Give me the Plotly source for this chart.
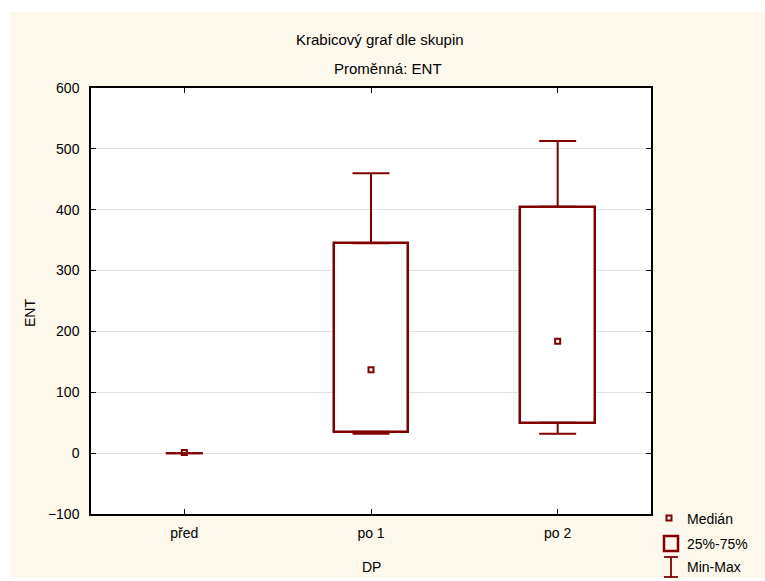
import plotly.graph_objects as go

# Group summary statistics for variable ENT
categories = ["před", "po 1", "po 2"]
q_min = [0, 32, 32]
q1 = [0, 35, 50]
median = [1, 137, 184]
q3 = [0, 345, 405]
q_max = [0, 460, 513]

y_ticks = [-100, 0, 100, 200, 300, 400, 500, 600]

DARK_RED = "#800000"
CREAM = "#FDF8EC"
FONT = "Liberation Sans, Arial, sans-serif"

W, H = 765, 581
L, R, T, B = 91, 114, 88, 67
PW, PH = W - L - R, H - T - B


def px_x(p):
    return (p - L) / PW


def px_y(p):
    return (H - B - p) / PH


xs = list(range(len(categories)))

fig = go.Figure()

# interquartile boxes (a collapsed box is not drawn)
box_heights = [(b - a) if b > a else None for a, b in zip(q1, q3)]
fig.add_trace(go.Bar(
    x=xs, base=q1, y=box_heights, width=0.4,
    marker=dict(color="white", line=dict(color=DARK_RED, width=2.5)),
    showlegend=False, hoverinfo="skip",
))

# upper whiskers (q3 -> max)
fig.add_trace(go.Scatter(
    x=xs, y=q3, mode="markers", marker=dict(size=1, opacity=0),
    error_y=dict(type="data", symmetric=False,
                 array=[b - a for a, b in zip(q3, q_max)],
                 arrayminus=[0] * len(xs),
                 color=DARK_RED, thickness=2, width=18.5),
    showlegend=False, hoverinfo="skip",
))

# lower whiskers (min -> q1)
fig.add_trace(go.Scatter(
    x=xs, y=q1, mode="markers", marker=dict(size=1, opacity=0),
    error_y=dict(type="data", symmetric=False,
                 array=[0] * len(xs),
                 arrayminus=[a - b for a, b in zip(q1, q_min)],
                 color=DARK_RED, thickness=2, width=18.5),
    showlegend=False, hoverinfo="skip",
))

# medians
fig.add_trace(go.Scatter(
    x=xs, y=median, mode="markers",
    marker=dict(symbol="square-open", size=5, color=DARK_RED,
                line=dict(color=DARK_RED, width=2)),
    showlegend=False, hoverinfo="skip",
))

shapes = [
    # white page edges around the cream panel
    dict(type="rect", xref="paper", yref="paper", x0=px_x(-5), x1=px_x(10),
         y0=px_y(H + 5), y1=px_y(-5), fillcolor="white", line=dict(width=0),
         layer="below"),
    dict(type="rect", xref="paper", yref="paper", x0=px_x(-5), x1=px_x(W + 5),
         y0=px_y(12), y1=px_y(-5), fillcolor="white", line=dict(width=0),
         layer="below"),
    dict(type="rect", xref="paper", yref="paper", x0=px_x(-5), x1=px_x(W + 5),
         y0=px_y(H + 5), y1=px_y(578), fillcolor="white", line=dict(width=0),
         layer="below"),
    # legend: median marker
    dict(type="rect", xref="paper", yref="paper", x0=px_x(666.5), x1=px_x(671.5),
         y0=px_y(520.5), y1=px_y(515.5), fillcolor="white",
         line=dict(color=DARK_RED, width=2)),
    # legend: box
    dict(type="rect", xref="paper", yref="paper", x0=px_x(664), x1=px_x(678),
         y0=px_y(551), y1=px_y(536), fillcolor="rgba(0,0,0,0)",
         line=dict(color=DARK_RED, width=2.5)),
    # legend: min-max I-beam
    dict(type="line", xref="paper", yref="paper", x0=px_x(671), x1=px_x(671),
         y0=px_y(577), y1=px_y(557), line=dict(color=DARK_RED, width=1.8)),
    dict(type="line", xref="paper", yref="paper", x0=px_x(664), x1=px_x(678),
         y0=px_y(557), y1=px_y(557), line=dict(color=DARK_RED, width=1.8)),
    dict(type="line", xref="paper", yref="paper", x0=px_x(664), x1=px_x(678),
         y0=px_y(577), y1=px_y(577), line=dict(color=DARK_RED, width=1.8)),
]


def label(text, x, y, size=14, anchor="left", angle=0):
    return dict(text=text, xref="paper", yref="paper", x=px_x(x), y=px_y(y),
                xanchor=anchor, yanchor="middle", showarrow=False,
                textangle=angle, font=dict(family=FONT, size=size, color="black"))


annotations = [
    label("Krabicový graf dle skupin", 380, 40, size=15, anchor="center"),
    label("Proměnná: ENT", 388, 68, size=15, anchor="center"),
    label("ENT", 30, 313, anchor="center", angle=-90),
    label("DP", 371, 567, anchor="center"),
    label("Medián", 685, 519),
    label("25%-75%", 685, 544),
    label("Min-Max", 685, 567),
]

fig.update_layout(
    width=W, height=H,
    margin=dict(l=L, r=R, t=T, b=B, pad=0),
    paper_bgcolor=CREAM, plot_bgcolor="white",
    font=dict(family=FONT, size=14, color="black"),
    shapes=shapes, annotations=annotations,
    showlegend=False, bargap=0,
)

fig.update_xaxes(
    range=[-0.5, 2.5], tickmode="array", tickvals=xs, ticktext=categories,
    showgrid=False, zeroline=False,
    showline=True, linecolor="black", linewidth=1.5, mirror="allticks",
    ticks="inside", ticklen=5, tickcolor="black", tickwidth=1.2,
    ticklabelstandoff=5,
)

fig.update_yaxes(
    range=[-100, 600], tickmode="array", tickvals=y_ticks,
    showgrid=True, gridcolor="#E3E3E3", gridwidth=1,
    zeroline=True, zerolinecolor="#E3E3E3", zerolinewidth=1,
    showline=True, linecolor="black", linewidth=1.5, mirror="allticks",
    ticks="inside", ticklen=5, tickcolor="black", tickwidth=1.2,
    ticklabelstandoff=7,
)

fig.write_html("out.html")
